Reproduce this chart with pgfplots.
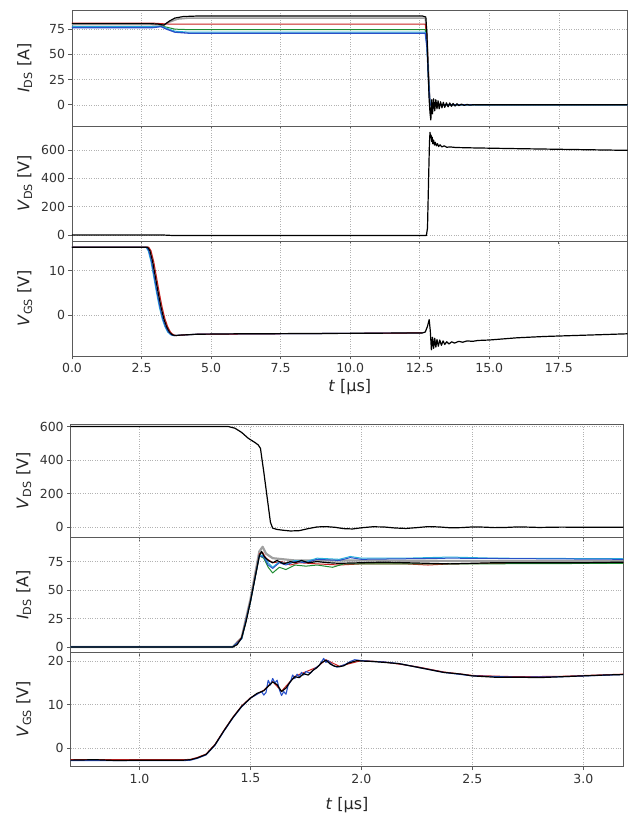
\documentclass[border=0pt]{standalone}
\usepackage{fontspec}
\setmainfont{DejaVu Sans}
\usepackage{pgfplots}
\pgfplotsset{compat=1.18}

\definecolor{mred}{RGB}{200,30,30}
\definecolor{mgreen}{RGB}{30,140,50}
\definecolor{mcyan}{RGB}{40,180,220}
\definecolor{mblue}{RGB}{40,80,200}
\definecolor{mgray}{RGB}{160,160,160}
\definecolor{frame}{RGB}{90,90,90}

\pgfplotsset{
  base/.style={
    scale only axis, anchor=south west,
    /pgf/number format/assume math mode=true,
    axis line style={frame, line width=0.9pt},
    grid=major, grid style={dotted, gray!60, line width=0.5pt},
    tick align=outside, tick pos=left, major tick length=3.5pt,
    tick style={frame, line width=0.8pt},
    ticklabel style={font=\fontsize{12.5}{14}\selectfont, text=black!80},
    label style={font=\fontsize{16}{19}\selectfont, text=black!85},
    ylabel style={at={(axis description cs:-0.085,0.5)}, anchor=center},
    every axis plot/.append style={line join=round, line width=1pt},
  },
  topx/.style={base, width=555.5pt, xmin=0, xmax=19.97, xtick={0,2.5,...,17.5},
    xticklabel style={/pgf/number format/.cd, fixed, fixed zerofill, precision=1}},
  botx/.style={base, width=552.6pt, xmin=0.69, xmax=3.18, xtick={1,1.5,...,3},
    xticklabel style={/pgf/number format/.cd, fixed, fixed zerofill, precision=1}},
  blk/.style={black, line width=1.2pt},
}

\begin{document}
\begin{tikzpicture}
\useasboundingbox (0,0) rectangle (630pt,817pt);

% ---------------- top group ----------------
\begin{axis}[topx, at={(72pt,691pt)}, height=116pt, ymin=-21, ymax=94,
  ytick={0,25,50,75}, xticklabels={}, ylabel={\textit{I}\textsubscript{DS} [A]}]
\addplot[mgray, line width=1.6pt] coordinates {(0,79.5)(2.8,79.5)(3.1,79.2)(3.3,79)(3.5,82)(3.8,85)(4.2,86)(12.7,86)(12.76,70)(12.82,30)(12.87,0)(12.92,-6)(13.0,1)(13.1,0)(19.97,0)};
\addplot[mred] coordinates {(0,81)(2.9,81)(3.2,80.5)(3.5,80)(12.7,80)(12.76,65)(12.82,28)(12.87,0)(13,0)(19.97,0)};
\addplot[mgreen] coordinates {(0,77)(2.9,77)(3.2,78)(3.4,77)(3.7,75)(4.2,74.5)(12.7,74.5)(12.76,60)(12.82,25)(12.87,0)(13,0)(19.97,0)};
\addplot[mcyan] coordinates {(0,78)(0.2,77.5)(2.9,77.5)(3.2,78)(3.4,76)(3.7,73)(4.2,72)(12.7,72)(12.76,58)(12.82,24)(12.87,0)(13,0)(19.97,0)};
\addplot[mblue, line width=1.3pt] coordinates {(0,76.5)(2.9,76.5)(3.2,77.5)(3.4,75)(3.7,72)(4.2,71)(12.7,71)(12.76,57)(12.82,23)(12.87,0)(13,0)(19.97,0)};
\addplot[blk] coordinates {(0,80.5)(2.8,80.5)(3.1,80)(3.3,79)(3.5,83)(3.7,86)(4.0,87.5)(4.5,88)(12.6,88)(12.72,87)(12.76,70)(12.80,35)(12.84,5)(12.87,-8)(12.90,-15)(12.93,5)(12.96,-9)(13.0,6)(13.04,-6)(13.08,5)(13.12,-4)(13.16,4)(13.2,-4)(13.25,3)(13.3,-3)(13.35,2.5)(13.4,-2.5)(13.46,2)(13.52,-2)(13.58,1.8)(13.64,-1.5)(13.7,1.3)(13.77,-1.2)(13.84,1)(13.91,-0.8)(14.0,0.7)(14.1,-0.5)(14.2,0.4)(14.3,-0.3)(14.45,0.2)(14.6,0)(19.97,0)};
\end{axis}

\begin{axis}[topx, at={(72pt,576pt)}, height=115pt, ymin=-42, ymax=770,
  ytick={0,200,400,600}, xticklabels={}, ylabel={\textit{V}\textsubscript{DS} [V]}]
\addplot[blk] coordinates {(0,0)(3.3,0)(3.6,-3)(12.74,-3)(12.78,50)(12.82,400)(12.85,650)(12.87,725)(12.89,690)(12.91,705)(12.93,660)(12.95,690)(12.97,645)(13.0,670)(13.03,635)(13.06,655)(13.1,630)(13.14,645)(13.18,625)(13.23,637)(13.3,622)(13.38,630)(13.47,620)(13.6,622)(13.8,618)(14.5,615)(16,610)(18,604)(19.97,598)};
\end{axis}

\begin{axis}[topx, at={(72pt,461pt)}, height=115pt, ymin=-9.2, ymax=16.7,
  ytick={0,10}, xlabel={\textit{t} [µs]}, ylabel={\textit{V}\textsubscript{GS} [V]}]
\addplot[mcyan] coordinates {(0,15.3)(2.66,15.3)(2.74,14.5)(2.84,12)(2.94,8.5)(3.04,5)(3.14,1.8)(3.24,-0.8)(3.34,-2.6)(3.44,-3.8)(3.54,-4.4)(3.64,-4.6)(3.9,-4.5)(4.5,-4.3)(12.6,-4.0)};
\addplot[mblue] coordinates {(0,15.3)(2.68,15.3)(2.76,14.5)(2.86,12)(2.96,8.5)(3.06,5)(3.16,1.8)(3.26,-0.8)(3.36,-2.6)(3.46,-3.8)(3.56,-4.4)(3.66,-4.6)(3.9,-4.5)(4.5,-4.3)(12.6,-4.0)};
\addplot[mred] coordinates {(0,15.3)(2.76,15.3)(2.84,14.5)(2.94,12)(3.04,8.5)(3.14,5)(3.24,1.8)(3.34,-0.8)(3.44,-2.6)(3.54,-3.8)(3.64,-4.4)(3.74,-4.6)(3.9,-4.5)(4.5,-4.3)(12.6,-4.0)};
\addplot[blk] coordinates {(0,15.3)(2.72,15.3)(2.8,14.5)(2.9,12)(3.0,8.5)(3.1,5)(3.2,1.8)(3.3,-0.8)(3.4,-2.6)(3.5,-3.8)(3.6,-4.4)(3.7,-4.6)(3.9,-4.5)(4.5,-4.3)(6,-4.2)(10,-4.1)(12.6,-4.0)(12.7,-3.8)(12.78,-2.5)(12.84,-1.0)(12.88,-3.5)(12.92,-7.8)(12.96,-5)(13.0,-7.5)(13.04,-5.2)(13.08,-7.2)(13.12,-5.5)(13.17,-7)(13.22,-5.6)(13.28,-6.8)(13.34,-5.8)(13.4,-6.6)(13.47,-6)(13.55,-6.5)(13.65,-6)(13.75,-6.3)(13.9,-5.9)(14.05,-6.1)(14.2,-5.8)(14.4,-5.9)(14.6,-5.7)(15,-5.6)(16,-5.1)(17,-4.8)(18,-4.6)(19,-4.4)(19.97,-4.2)};
\end{axis}

% ---------------- bottom group ----------------
\begin{axis}[botx, at={(70.7pt,279.3pt)}, height=113.7pt, ymin=-62, ymax=615,
  ytick={0,200,400,600}, xticklabels={}, ylabel={\textit{V}\textsubscript{DS} [V]}]
\addplot[blk] coordinates {(0.69,600)(1.40,600)(1.43,590)(1.46,565)(1.49,530)(1.52,505)(1.535,490)(1.545,470)(1.56,330)(1.575,180)(1.59,30)(1.60,-5)(1.62,-13)(1.65,-18)(1.68,-22)(1.72,-20)(1.76,-8)(1.80,2)(1.84,4)(1.88,0)(1.92,-8)(1.96,-10)(2.0,-3)(2.05,3)(2.1,2)(2.15,-4)(2.2,-7)(2.25,-2)(2.3,4)(2.35,2)(2.4,-3)(2.45,-2)(2.5,2)(2.55,1)(2.6,-2)(2.65,-1)(2.7,2)(2.75,1)(2.8,-1)(2.85,0)(2.9,1)(3.0,0)(3.18,0)};
\end{axis}

\begin{axis}[botx, at={(70.7pt,164.7pt)}, height=114.6pt, ymin=-4.7, ymax=96,
  ytick={0,25,50,75}, xticklabels={}, ylabel={\textit{I}\textsubscript{DS} [A]}]
\addplot[mgray, line width=2.2pt] coordinates {(0.69,0)(1.42,0)(1.46,8)(1.50,42)(1.54,84)(1.555,88)(1.57,82)(1.6,78)(1.65,77)(1.7,76)(1.8,76)(2.0,76)(2.5,75.5)(3.18,75.5)};
\addplot[mred] coordinates {(0.69,0)(1.42,0)(1.46,8)(1.50,41)(1.54,82)(1.555,83)(1.57,78)(1.6,74)(1.64,75)(1.68,72)(1.72,74)(1.8,73)(1.9,72)(2.0,73)(2.2,73)(2.3,72)(2.4,73)(2.6,73.5)(3.18,73.5)};
\addplot[mgreen] coordinates {(0.69,0)(1.42,0)(1.46,7)(1.50,40)(1.54,80)(1.56,78)(1.58,70)(1.6,65)(1.63,70)(1.66,68)(1.7,72)(1.75,71)(1.8,72)(1.87,70)(1.92,73)(2.0,73)(2.5,73)(3.18,73.5)};
\addplot[mcyan] coordinates {(0.69,0)(1.42,0)(1.46,7)(1.50,40)(1.54,81)(1.56,80)(1.58,74)(1.6,70)(1.63,75)(1.66,73)(1.7,76)(1.75,75)(1.8,78)(1.9,77)(1.95,79.5)(2.0,78)(2.2,78)(2.4,79)(2.6,78)(3.18,77.5)};
\addplot[mblue] coordinates {(0.69,0)(1.42,0)(1.46,7)(1.50,40)(1.54,80)(1.56,79)(1.58,72)(1.6,69)(1.63,74)(1.66,72)(1.7,75)(1.75,74)(1.8,77)(1.9,76)(1.95,78.5)(2.0,77)(2.4,78)(3.18,77)};
\addplot[blk] coordinates {(0.69,0)(1.42,0)(1.44,2)(1.46,8)(1.48,22)(1.50,40)(1.52,60)(1.54,80)(1.55,84)(1.56,80)(1.58,76)(1.6,74)(1.62,76)(1.65,73)(1.68,75)(1.7,74)(1.73,76)(1.76,74)(1.8,75)(1.85,74)(1.9,73.5)(2.0,74)(2.1,74.5)(2.2,74)(2.4,73)(2.6,74)(2.8,74)(3.0,74)(3.18,74.5)};
\end{axis}

\begin{axis}[botx, at={(70.7pt,50.3pt)}, height=114.4pt, ymin=-4.2, ymax=22,
  ytick={0,10,20}, xlabel={\textit{t} [µs]}, xlabel style={yshift=-7pt},
  ylabel={\textit{V}\textsubscript{GS} [V]}]
\addplot[mred] coordinates {(0.69,-2.6)(1.2,-2.6)(1.23,-2.5)(1.26,-2.1)(1.3,-1.3)(1.34,0.9)(1.38,4.1)(1.42,7.1)(1.46,9.7)(1.5,11.6)(1.56,13.3)(1.6,15.3)(1.64,13.1)(1.7,16.5)(1.8,18.6)(1.84,20.3)(1.9,18.8)(2.0,20.1)(2.1,19.8)(2.25,18.7)(2.37,17.5)(2.5,16.7)(2.7,16.4)(2.9,16.5)(3.18,17.0)};
\addplot[mblue, line width=1.1pt] coordinates {(0.69,-2.8)(1.2,-2.8)(1.23,-2.7)(1.26,-2.3)(1.3,-1.5)(1.34,0.7)(1.38,3.9)(1.42,6.9)(1.46,9.5)(1.5,11.5)(1.55,13)(1.56,12.2)(1.57,12.8)(1.58,15.6)(1.59,14.5)(1.6,16)(1.61,15)(1.62,15.6)(1.63,13.5)(1.64,12.1)(1.65,13)(1.66,12.4)(1.67,14.5)(1.68,15.2)(1.69,16.8)(1.7,16)(1.71,17)(1.72,16.3)(1.73,17.4)(1.74,16.8)(1.75,17.6)(1.77,17.2)(1.79,18.3)(1.81,19)(1.83,20.6)(1.84,19.7)(1.85,20.1)(1.87,19)(1.89,18.6)(1.91,18.9)(1.93,19.3)(1.95,19.9)(1.97,20.3)(2.0,20.1)(2.05,19.9)(2.1,19.8)(2.17,19.4)(2.25,18.6)(2.37,17.4)(2.5,16.6)(2.7,16.3)(2.9,16.4)(3.18,16.9)};
\addplot[blk] coordinates {(0.69,-2.7)(0.8,-2.6)(0.9,-2.8)(1.0,-2.7)(1.1,-2.7)(1.2,-2.7)(1.23,-2.6)(1.26,-2.2)(1.3,-1.4)(1.34,0.8)(1.38,4)(1.42,7)(1.46,9.6)(1.5,11.5)(1.53,12.6)(1.56,13.2)(1.58,14.2)(1.6,15.2)(1.62,14.6)(1.64,13)(1.66,13.8)(1.68,15.3)(1.7,16.4)(1.72,16.2)(1.74,17.1)(1.76,16.8)(1.78,17.8)(1.8,18.5)(1.82,19.6)(1.84,20.2)(1.86,19.3)(1.88,18.8)(1.9,18.7)(1.92,18.9)(1.94,19.5)(1.96,19.8)(1.98,20.1)(2.0,20.0)(2.05,19.9)(2.1,19.7)(2.17,19.4)(2.25,18.6)(2.3,18.1)(2.37,17.4)(2.45,17.0)(2.5,16.6)(2.6,16.3)(2.7,16.3)(2.8,16.2)(2.9,16.4)(3.0,16.6)(3.1,16.8)(3.18,16.9)};
\end{axis}
\end{tikzpicture}
\end{document}
